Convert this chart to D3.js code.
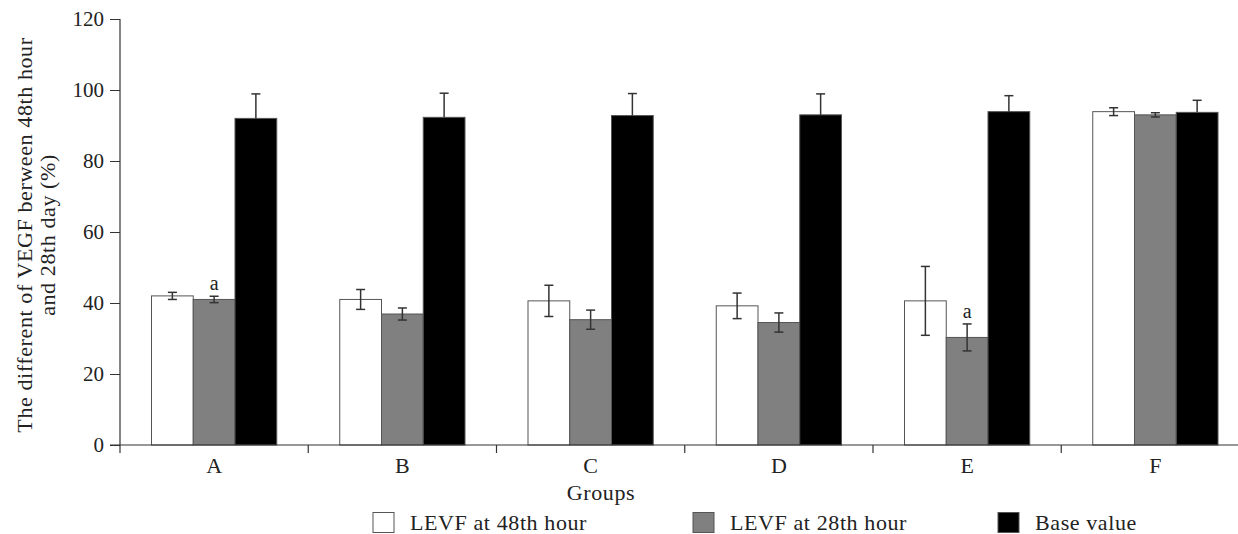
<!DOCTYPE html>
<html>
<head>
<meta charset="utf-8">
<script src="https://cdn.jsdelivr.net/npm/d3@7.9.0/dist/d3.min.js"></script>
<style>
  body { margin: 0; background: #fff; }
</style>
</head>
<body>
<svg id="chart" width="1238" height="534" font-family="'Liberation Serif', 'DejaVu Serif', serif"></svg>
<script>
// Groups and series
const groups = ["A", "B", "C", "D", "E", "F"];
const seriesNames = ["LEVF at 48th hour", "LEVF at 28th hour", "Base value"];
const seriesColors = ["#ffffff", "#808080", "#000000"];

// Values (mean and error)
const levf48 = [42.0, 41.0, 40.6, 39.2, 40.6, 93.9];
const levf48Err = [1.0, 2.8, 4.4, 3.6, 9.7, 1.1];
const levf28 = [41.0, 36.9, 35.3, 34.5, 30.3, 93.0];
const levf28Err = [0.9, 1.7, 2.7, 2.7, 3.8, 0.6];
const baseValue = [92.0, 92.3, 92.8, 93.0, 93.9, 93.7];
const baseErr = [6.9, 6.8, 6.2, 5.9, 4.5, 3.4];

// Significance marks ("a") on the 28th-hour bars
const sigMarks = [
  { group: "A", series: 1, label: "a" },
  { group: "E", series: 1, label: "a" },
];

const yTicks = [0, 20, 40, 60, 80, 100, 120];

// Build rows for drawing
const values = [levf48, levf28, baseValue];
const errors = [levf48Err, levf28Err, baseErr];
const rows = [];
groups.forEach((g, gi) => {
  seriesNames.forEach((s, si) => {
    rows.push({ group: g, series: si, value: values[si][gi], err: errors[si][gi], oneSided: si === 2 });
  });
});

const svg = d3.select("#chart");
const axisColor = "#333";
const textColor = "#222";
const fontSize = 21;
const labelSize = 22;
const spacing = "0.6px";

// Scales
const x0 = d3.scaleBand().domain(groups).range([120, 1249.5]).padding(0);
const x1 = d3.scaleBand().domain(d3.range(seriesNames.length))
  .range([31.5, x0.bandwidth() - 31.5]).padding(0);
const y = d3.scaleLinear().domain([0, 120]).range([445, 19]);

// Bars
svg.append("g")
  .selectAll("rect")
  .data(rows)
  .join("rect")
  .attr("x", (d) => x0(d.group) + x1(d.series))
  .attr("y", (d) => y(d.value))
  .attr("width", x1.bandwidth())
  .attr("height", (d) => y(0) - y(d.value))
  .attr("fill", (d) => seriesColors[d.series])
  .attr("stroke", "#555")
  .attr("stroke-width", 1);

// Error bars
const capHalf = 4.5;
const errG = svg.append("g").attr("stroke", axisColor).attr("stroke-width", 1.5).attr("fill", "none");
rows.forEach((d) => {
  const cx = x0(d.group) + x1(d.series) + x1.bandwidth() / 2;
  const top = y(d.value + d.err);
  const bottom = d.oneSided ? y(d.value) : y(d.value - d.err);
  errG.append("line").attr("x1", cx).attr("x2", cx).attr("y1", top).attr("y2", bottom);
  errG.append("line").attr("x1", cx - capHalf).attr("x2", cx + capHalf).attr("y1", top).attr("y2", top);
  if (!d.oneSided) {
    errG.append("line").attr("x1", cx - capHalf).attr("x2", cx + capHalf).attr("y1", bottom).attr("y2", bottom);
  }
});

// Significance labels
sigMarks.forEach((m) => {
  const gi = groups.indexOf(m.group);
  const v = values[m.series][gi] + errors[m.series][gi];
  svg.append("text")
    .attr("x", x0(m.group) + x1(m.series) + x1.bandwidth() / 2)
    .attr("y", y(v) - 6)
    .attr("text-anchor", "middle")
    .attr("font-size", 20)
    .attr("fill", textColor)
    .text(m.label);
});

// Y axis
const yAxis = svg.append("g")
  .attr("transform", "translate(120,0)")
  .call(d3.axisLeft(y).tickValues(yTicks).tickSize(10).tickSizeOuter(0).tickPadding(6));
yAxis.attr("font-family", null).attr("font-size", null);
yAxis.select(".domain").remove();
yAxis.selectAll(".tick line").attr("stroke", axisColor);
yAxis.selectAll(".tick text").attr("font-size", fontSize).attr("fill", textColor);
svg.append("line")
  .attr("x1", 120).attr("x2", 120).attr("y1", y(120)).attr("y2", y(0) + 8)
  .attr("stroke", axisColor).attr("stroke-width", 1.2);

// X axis
svg.append("line")
  .attr("x1", 110).attr("x2", 1249.5).attr("y1", y(0)).attr("y2", y(0))
  .attr("stroke", axisColor).attr("stroke-width", 1.2);
svg.append("g")
  .selectAll("line")
  .data(groups.slice(1).concat(["end"]))
  .join("line")
  .attr("x1", (d) => (d === "end" ? x0.range()[1] : x0(d)))
  .attr("x2", (d) => (d === "end" ? x0.range()[1] : x0(d)))
  .attr("y1", y(0))
  .attr("y2", y(0) + 8)
  .attr("stroke", axisColor)
  .attr("stroke-width", 1.2);
svg.append("g")
  .selectAll("text")
  .data(groups)
  .join("text")
  .attr("x", (d) => x0(d) + x0.bandwidth() / 2)
  .attr("y", 473)
  .attr("text-anchor", "middle")
  .attr("font-size", labelSize)
  .attr("fill", textColor)
  .text((d) => d);

// Axis titles
svg.append("text")
  .attr("x", 601)
  .attr("y", 500)
  .attr("text-anchor", "middle")
  .attr("font-size", labelSize)
  .attr("letter-spacing", spacing)
  .attr("fill", textColor)
  .text("Groups");

const yTitle = svg.append("text")
  .attr("transform", "translate(32,235) rotate(-90)")
  .attr("text-anchor", "middle")
  .attr("font-size", labelSize)
  .attr("letter-spacing", spacing)
  .attr("fill", textColor);
yTitle.append("tspan").attr("x", 0).attr("y", 0).text("The different of VEGF berween 48th hour");
yTitle.append("tspan").attr("x", 0).attr("y", 23).text("and 28th day (%)");

// Legend
const legendX = [373, 693, 998];
const legend = svg.append("g");
seriesNames.forEach((s, i) => {
  legend.append("rect")
    .attr("x", legendX[i]).attr("y", 512.5)
    .attr("width", 21).attr("height", 20)
    .attr("fill", seriesColors[i])
    .attr("stroke", "#555");
  legend.append("text")
    .attr("x", legendX[i] + 37)
    .attr("y", 530)
    .attr("font-size", labelSize)
    .attr("letter-spacing", spacing)
    .attr("fill", textColor)
    .text(s);
});
</script>
</body>
</html>
